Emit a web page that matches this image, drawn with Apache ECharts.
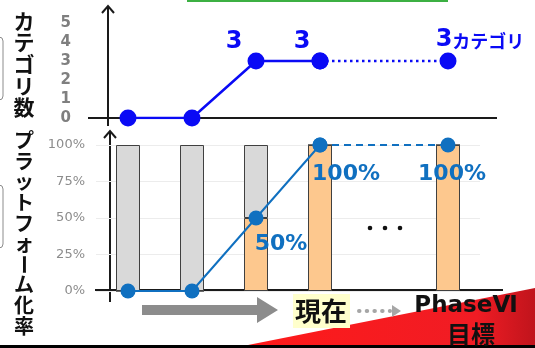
<!DOCTYPE html>
<html>
<head>
<meta charset="utf-8">
<script src="https://cdn.jsdelivr.net/npm/echarts@6/dist/echarts.min.js"></script>
<style>
  html, body { margin: 0; padding: 0; background: #fff; }
  #chart { width: 535px; height: 348px; }
</style>
</head>
<body>
<div id="chart"></div>
<script>
// categories (5th slot is the "..." gap)
const phases = ['P1', 'P2', 'P3', 'P4', 'gap', 'P6'];

// top: number of categories
const categoryCount = [0, 0, 3, 3, '-', '-'];
const categoryPlan = ['-', '-', '-', 3, '-', 3];

// bottom: platform ratio (%)
const ratioDone = [0, 0, 50, 100, '-', 100];
const ratioRest = [100, 100, 50, 0, '-', 0];
const ratioLine = [0, 0, 50, 100, '-', '-'];
const ratioPlan = ['-', '-', '-', 100, '-', 100];

const topTicks = [0, 1, 2, 3, 4, 5];
const bottomTicks = [0, 25, 50, 75, 100];

const NUM_FONT = 'DejaVu Sans';
const JP_FONT = '"Noto Sans CJK JP"';

const chart = echarts.init(document.getElementById('chart'));

// label offsets for points (styling only)
const topLabelOffsets = { 2: [-22, -19], 3: [-18, -19] };
const bottomLabelOffsets = { 2: [25, 26], 3: [26, 29], 5: [4, 29] };

const topLine = categoryCount.map((v, i) => {
  if (topLabelOffsets[i] && v !== '-') {
    return { value: v, label: { show: true, position: 'inside', offset: topLabelOffsets[i] } };
  }
  return v;
});
const topPlan = categoryPlan.map((v, i) => {
  if (i === 5) {
    return { value: v, label: { show: true, position: 'inside', offset: [32, -21],
      formatter: '{a|{c}}{b|カテゴリ}' } };
  }
  return v;
});
const bottomLine = ratioLine.map((v, i) => {
  if (bottomLabelOffsets[i] && v !== '-') {
    return { value: v, label: { show: true, position: 'inside', offset: bottomLabelOffsets[i] } };
  }
  return v;
});
const bottomPlan = ratioPlan.map((v, i) => {
  if (i === 5) {
    return { value: v, label: { show: true, position: 'inside', offset: bottomLabelOffsets[i] } };
  }
  return v;
});

const topBlue = '#0a0af5';
const bottomBlue = '#1070c0';

const arrow = (x, y1, y2) => [
  { type: 'line', shape: { x1: x, y1: y1, x2: x, y2: y2 }, style: { stroke: '#1a1a1a', lineWidth: 2 } },
  { type: 'polyline', shape: { points: [[x - 6, y1 + 7], [x, y1], [x + 6, y1 + 7]] }, style: { stroke: '#1a1a1a', lineWidth: 2, fill: null } }
];

const pctLabel = { color: bottomBlue, fontFamily: NUM_FONT, fontWeight: 'bold', fontSize: 22, formatter: '{c}%' };

const option = {
  animation: false,
  backgroundColor: '#fff',
  grid: [
    { left: 96, width: 384, top: 23, height: 95 },
    { left: 96, width: 384, top: 145, height: 146 }
  ],
  xAxis: [
    { type: 'category', gridIndex: 0, data: phases, show: false },
    { type: 'category', gridIndex: 1, data: phases, show: false }
  ],
  yAxis: [
    {
      type: 'value', gridIndex: 0, min: topTicks[0], max: topTicks[topTicks.length - 1], interval: 1,
      axisLine: { show: false }, axisTick: { show: false }, splitLine: { show: false },
      axisLabel: { margin: 25, color: '#7f7f7f', fontFamily: NUM_FONT, fontWeight: 'bold', fontSize: 15 }
    },
    {
      type: 'value', gridIndex: 1, min: bottomTicks[0], max: bottomTicks[bottomTicks.length - 1], interval: 25,
      axisLine: { show: false }, axisTick: { show: false },
      splitLine: { lineStyle: { color: '#ececec', width: 1 } },
      axisLabel: { margin: 11, color: '#8c8c8c', fontFamily: NUM_FONT, fontSize: 13, formatter: '{value}%' }
    }
  ],
  series: [
    {
      type: 'bar', xAxisIndex: 1, yAxisIndex: 1, stack: 'r', barWidth: 24, data: ratioDone,
      itemStyle: { color: '#fdc88e', borderColor: '#404040', borderWidth: 1 }
    },
    {
      type: 'bar', xAxisIndex: 1, yAxisIndex: 1, stack: 'r', barWidth: 24, data: ratioRest,
      itemStyle: { color: '#d9d9d9', borderColor: '#404040', borderWidth: 1 }
    },
    {
      type: 'line', xAxisIndex: 1, yAxisIndex: 1, data: bottomPlan, connectNulls: true,
      symbol: 'circle', symbolSize: 15, itemStyle: { color: bottomBlue },
      lineStyle: { color: bottomBlue, width: 2, type: [7, 5] },
      label: pctLabel
    },
    {
      type: 'line', xAxisIndex: 1, yAxisIndex: 1, data: bottomLine,
      symbol: 'circle', symbolSize: 15, itemStyle: { color: bottomBlue },
      lineStyle: { color: bottomBlue, width: 2 },
      label: pctLabel
    },
    {
      type: 'line', xAxisIndex: 0, yAxisIndex: 0, data: topPlan, connectNulls: true,
      symbol: 'circle', symbolSize: 17, itemStyle: { color: topBlue },
      lineStyle: { color: topBlue, width: 2.5, type: [2.5, 3.5] },
      label: {
        color: topBlue, fontFamily: NUM_FONT, fontWeight: 'bold', fontSize: 24,
        rich: {
          a: { color: topBlue, fontFamily: NUM_FONT, fontWeight: 'bold', fontSize: 24 },
          b: { color: topBlue, fontFamily: JP_FONT, fontWeight: 'bold', fontSize: 18, padding: [3, 0, 0, 0] }
        }
      }
    },
    {
      type: 'line', xAxisIndex: 0, yAxisIndex: 0, data: topLine,
      symbol: 'circle', symbolSize: 17, itemStyle: { color: topBlue },
      lineStyle: { color: topBlue, width: 2.5 },
      label: { color: topBlue, fontFamily: NUM_FONT, fontWeight: 'bold', fontSize: 24 }
    }
  ],
  graphic: [
    // green strip at top
    { type: 'rect', shape: { x: 187, y: 0, width: 261, height: 2 }, style: { fill: '#3cb043' } },
    // red wedge at the bottom right
    {
      type: 'polygon', shape: { points: [[243, 346], [535, 288], [535, 348], [243, 348]] },
      style: { fill: new echarts.graphic.LinearGradient(0, 0, 1, 0, [
        { offset: 0, color: '#ff1a1a' }, { offset: 0.8, color: '#f01c24' }, { offset: 1, color: '#c0141c' }
      ]) }
    },
    { type: 'rect', shape: { x: 0, y: 345, width: 535, height: 3 }, style: { fill: '#000' } },
    // axes
    ...arrow(108, 6, 126),
    { type: 'line', shape: { x1: 88, y1: 118, x2: 497, y2: 118 }, style: { stroke: '#1a1a1a', lineWidth: 2 } },
    ...arrow(110, 131, 302),
    { type: 'line', shape: { x1: 95, y1: 290, x2: 503, y2: 290 }, style: { stroke: '#1a1a1a', lineWidth: 2 } },
    // partial boxes on the left edge
    { type: 'rect', shape: { x: -12, y: 37, width: 15, height: 63, r: 4 }, style: { stroke: '#8c8c8c', lineWidth: 1, fill: null } },
    { type: 'rect', shape: { x: -12, y: 185, width: 15, height: 63, r: 4 }, style: { stroke: '#8c8c8c', lineWidth: 1, fill: null } },
    // vertical titles
    {
      type: 'text', x: 24, y: 10,
      style: { text: 'カ\nテ\nゴ\nリ\n数', font: 'bold 21px ' + JP_FONT, fill: '#111', align: 'center', lineHeight: 21.6 }
    },
    {
      type: 'text', x: 24, y: 130,
      style: { text: 'プ\nラ\nッ\nト\nフ\nォ', font: 'bold 20px ' + JP_FONT, fill: '#111', align: 'center', lineHeight: 20.7 }
    },
    {
      type: 'text', x: 24, y: 264.5, rotation: -Math.PI / 2,
      style: { text: 'ー', font: 'bold 20px ' + JP_FONT, fill: '#111', align: 'center', verticalAlign: 'middle' }
    },
    {
      type: 'text', x: 24, y: 274.5,
      style: { text: 'ム\n化\n率', font: 'bold 20px ' + JP_FONT, fill: '#111', align: 'center', lineHeight: 20.7 }
    },
    // ellipsis
    { type: 'circle', shape: { cx: 370, cy: 228, r: 2.3 }, style: { fill: '#111' } },
    { type: 'circle', shape: { cx: 385, cy: 228, r: 2.3 }, style: { fill: '#111' } },
    { type: 'circle', shape: { cx: 400, cy: 228, r: 2.3 }, style: { fill: '#111' } },
    // big gray arrow
    {
      type: 'polygon',
      shape: { points: [[142, 305], [257, 305], [257, 297], [278, 310], [257, 323], [257, 315], [142, 315]] },
      style: { fill: '#8c8c8c' }
    },
    // 現在
    { type: 'rect', shape: { x: 293, y: 294, width: 57, height: 34 }, style: { fill: '#ffffcc' } },
    { type: 'text', x: 321, y: 311, style: { text: '現在', font: 'bold 26px ' + JP_FONT, fill: '#111', align: 'center', verticalAlign: 'middle' } },
    // dotted arrow
    { type: 'line', shape: { x1: 359, y1: 311, x2: 390, y2: 311 }, style: { stroke: '#a6a6a6', lineWidth: 4, lineDash: [0.5, 7.2], lineCap: 'round' } },
    { type: 'polygon', shape: { points: [[392, 305], [401, 311], [392, 317]] }, style: { fill: '#a6a6a6' } },
    // PhaseVI / 目標
    { type: 'text', x: 466, y: 306, style: { text: 'PhaseⅥ', font: 'bold 23px ' + NUM_FONT, fill: '#111', align: 'center', verticalAlign: 'middle' } },
    { type: 'text', x: 471, y: 334, style: { text: '目標', font: 'bold 24px ' + JP_FONT, fill: '#111', align: 'center', verticalAlign: 'middle' } }
  ]
};

chart.setOption(option);
</script>
</body>
</html>
